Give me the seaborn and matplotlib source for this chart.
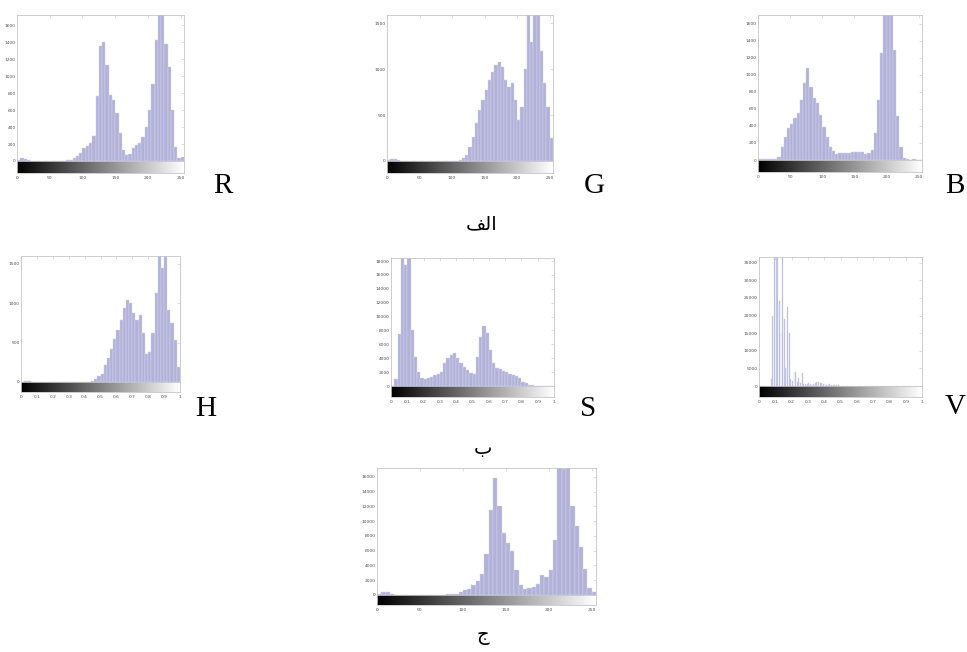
import numpy as np
import pandas as pd
import matplotlib
matplotlib.use("Agg")
import matplotlib.pyplot as plt
import seaborn as sns

# ---- bins ----
rgb_edges = np.arange(0, 256, 5)          # 0..255, width 5
hs_edges = np.linspace(0, 1, 51)          # width 0.02
v_edges = np.linspace(0, 1, 101)          # width 0.01

# ---- histogram counts ----
r_counts = [10, 30, 25, 10, 5, 3, 2, 2, 2, 2, 2, 3, 3, 4, 5, 8, 15, 30, 60, 100,
            150, 180, 210, 300, 760, 1350, 1400, 1130, 780, 720,
            560, 325, 130, 70, 80, 150, 190, 215, 285, 400,
            600, 910, 1420, 1800, 1800, 1380, 1110, 600, 170, 30, 50]
g_counts = [10, 20, 25, 15, 5, 3, 3, 3, 3, 3, 3, 3, 3, 3, 3, 3, 3, 3, 3, 3,
            3, 5, 10, 30, 65, 155, 265, 410, 555, 660,
            770, 880, 970, 1045, 1080, 1025, 880, 810, 845, 660,
            445, 590, 1000, 1650, 1300, 1700, 1700, 1200, 845, 590, 250]
b_counts = [15, 12, 10, 10, 10, 15, 40, 155, 275, 370,
            425, 490, 550, 705, 900, 1080, 860, 725, 665, 530,
            390, 275, 155, 100, 70, 80, 85, 80, 85, 90,
            90, 95, 90, 75, 80, 120, 315, 705, 1255, 1750,
            1800, 1750, 1295, 520, 155, 20, 8, 5, 10, 5, 3]
h_counts = [5, 15, 10, 2, 2, 2, 2, 2, 2, 2,
            2, 2, 2, 2, 2, 2, 2, 2, 2, 2,
            3, 5, 15, 40, 70, 105, 210, 300, 420, 550,
            660, 790, 935, 1040, 1000, 870, 790, 850, 620, 360,
            380, 620, 1130, 1650, 1450, 1650, 915, 745, 530, 190]
s_counts = [0, 1000, 7500, 18500, 17500, 18500, 8000, 4200, 2000, 1100,
            960, 1100, 1350, 1600, 1800, 2000, 3300, 4000, 4500, 4700,
            4000, 3300, 2800, 2300, 1900, 1800, 4200, 7100, 8600, 7600,
            5200, 3300, 2550, 2400, 2200, 2000, 1800, 1600, 1450, 1100,
            620, 380, 150, 80, 50, 40, 30, 20, 20, 10]
v_counts = [0, 0, 0, 0, 0, 0, 0, 2000, 20000, 40000,
            40000, 40000, 24000, 15000, 40000, 19000, 5000, 22400, 14900, 2000,
            1500, 3600, 4000, 1000, 2200, 800, 3600, 600, 700, 500,
            800, 500, 600, 700, 900, 1000, 1000, 800, 900, 500,
            600, 400, 300, 500, 400, 300, 200, 300, 200, 100,
            100, 80, 60, 80, 50, 60, 40, 50, 30, 40,
            30, 30, 20, 30, 20, 20, 20, 10, 20, 10,
            10, 10, 10, 10, 10, 10, 10, 10, 10, 10,
            10, 10, 10, 10, 10, 10, 10, 10, 10, 10,
            10, 10, 10, 10, 10, 10, 10, 10, 10, 10]
gray_counts = [100, 450, 400, 100, 30, 20, 20, 20, 20, 20,
               20, 20, 20, 30, 40, 60, 90, 130, 180, 350,
               640, 860, 1300, 1900, 2900, 5600, 11500, 15800, 12000, 8400,
               7000, 5900, 3400, 1300, 860, 900, 1100, 1550, 2700, 2450,
               3400, 7500, 17500, 17000, 17500, 12000, 9300, 6500, 3500, 900, 400]

# ---- tick labels ----
rgb_ticks = [0, 50, 100, 150, 200, 250]
rgb_labels = ["0", "50", "100", "150", "200", "250"]
hsv_ticks = [0, 0.1, 0.2, 0.3, 0.4, 0.5, 0.6, 0.7, 0.8, 0.9, 1]
hsv_labels = ["0", "0.1", "0.2", "0.3", "0.4", "0.5", "0.6", "0.7", "0.8", "0.9", "1"]

sns.set_style("white")
plt.rcParams["font.family"] = ["DejaVu Sans"]

W, H = 967, 652
fig = plt.figure(figsize=(W / 100, H / 100), dpi=100)

BAR = "#b2b2d9"
EDGE = "#d2d2ea"
FRAME = "#c6c6c6"
TXT = "#505050"


def panel(box, edges, counts, ymax, yticks, xticks, xlabels, shrink=1.0):
    # box = left, top, right, zero line, bottom of gray bar (pixels)
    left, top, right, zero, bottom = box
    ax = fig.add_axes([left / W, 1 - zero / H, (right - left) / W, (zero - top) / H])
    df = pd.DataFrame({"level": (edges[:-1] + edges[1:]) / 2, "count": counts})
    sns.histplot(data=df, x="level", weights="count", bins=list(edges), ax=ax,
                 color=BAR, alpha=1, edgecolor=EDGE, linewidth=0.35, shrink=shrink)
    ax.set_xlim(edges[0], edges[-1])
    ax.set_ylim(0, ymax)
    ax.set_xlabel("")
    ax.set_ylabel("")
    ax.set_yticks(yticks)
    ax.set_yticklabels([str(t) for t in yticks])
    ax.set_xticks(xticks)
    ax.set_xticklabels([])
    ax.tick_params(direction="in", length=2, width=0.4, colors=FRAME,
                   labelcolor=TXT, labelsize=3.2, top=True, right=True, pad=1)
    for s in ax.spines.values():
        s.set_color(FRAME)
        s.set_linewidth(0.6)

    cax = fig.add_axes([left / W, 1 - bottom / H, (right - left) / W, (bottom - zero) / H])
    cax.imshow(np.linspace(0, 1, 256)[None, :], cmap="gray", aspect="auto",
               extent=[edges[0], edges[-1], 0, 1])
    cax.set_xlim(edges[0], edges[-1])
    cax.set_yticks([])
    cax.set_xticks(xticks)
    cax.set_xticklabels(xlabels)
    cax.tick_params(direction="in", length=2, width=0.4, colors=FRAME,
                    labelcolor=TXT, labelsize=3.2, pad=2)
    for s in cax.spines.values():
        s.set_color(FRAME)
        s.set_linewidth(0.6)
    return ax


panel((17, 15, 184, 161, 173), rgb_edges, r_counts, 1720,
      list(range(0, 1601, 200)), rgb_ticks, rgb_labels)
panel((387, 15, 553, 161, 173), rgb_edges, g_counts, 1590,
      [0, 500, 1000, 1500], rgb_ticks, rgb_labels)
panel((758, 15, 922, 160, 172), rgb_edges, b_counts, 1700,
      list(range(0, 1601, 200)), rgb_ticks, rgb_labels)

panel((21, 256, 180, 382, 392), hs_edges, h_counts, 1600,
      [0, 500, 1000, 1500], hsv_ticks, hsv_labels)
panel((391, 258, 554, 386, 397), hs_edges, s_counts, 18450,
      list(range(0, 18001, 2000)), hsv_ticks, hsv_labels)
panel((759, 257, 922, 386, 397), v_edges, v_counts, 36600,
      list(range(0, 35001, 5000)), hsv_ticks, hsv_labels, shrink=0.55)

panel((377, 468, 596, 595, 605), rgb_edges, gray_counts, 17200,
      list(range(0, 16001, 2000)), rgb_ticks, rgb_labels)

# channel letters
serif = ["Liberation Serif", "DejaVu Serif"]
for letter, x, y in [("R", 223, 193), ("G", 594, 193), ("B", 955, 193),
                     ("H", 206, 416), ("S", 588, 416), ("V", 955, 414)]:
    fig.text(x / W, 1 - y / H, letter, family=serif, fontsize=21,
             color="black", ha="center", va="baseline")

# Arabic captions (presentation forms, so the letters join without a shaper)
for cap, x, y in [("\ufed2\ufedf\ufe8d", 482, 229), ("\ufe8f", 483, 454),
                  ("\ufe9d", 483, 640)]:
    fig.text(x / W, 1 - y / H, cap, family=["DejaVu Sans"], fontsize=14,
             color="black", ha="center", va="baseline")

fig.savefig("out.png", dpi=100, facecolor="white")
